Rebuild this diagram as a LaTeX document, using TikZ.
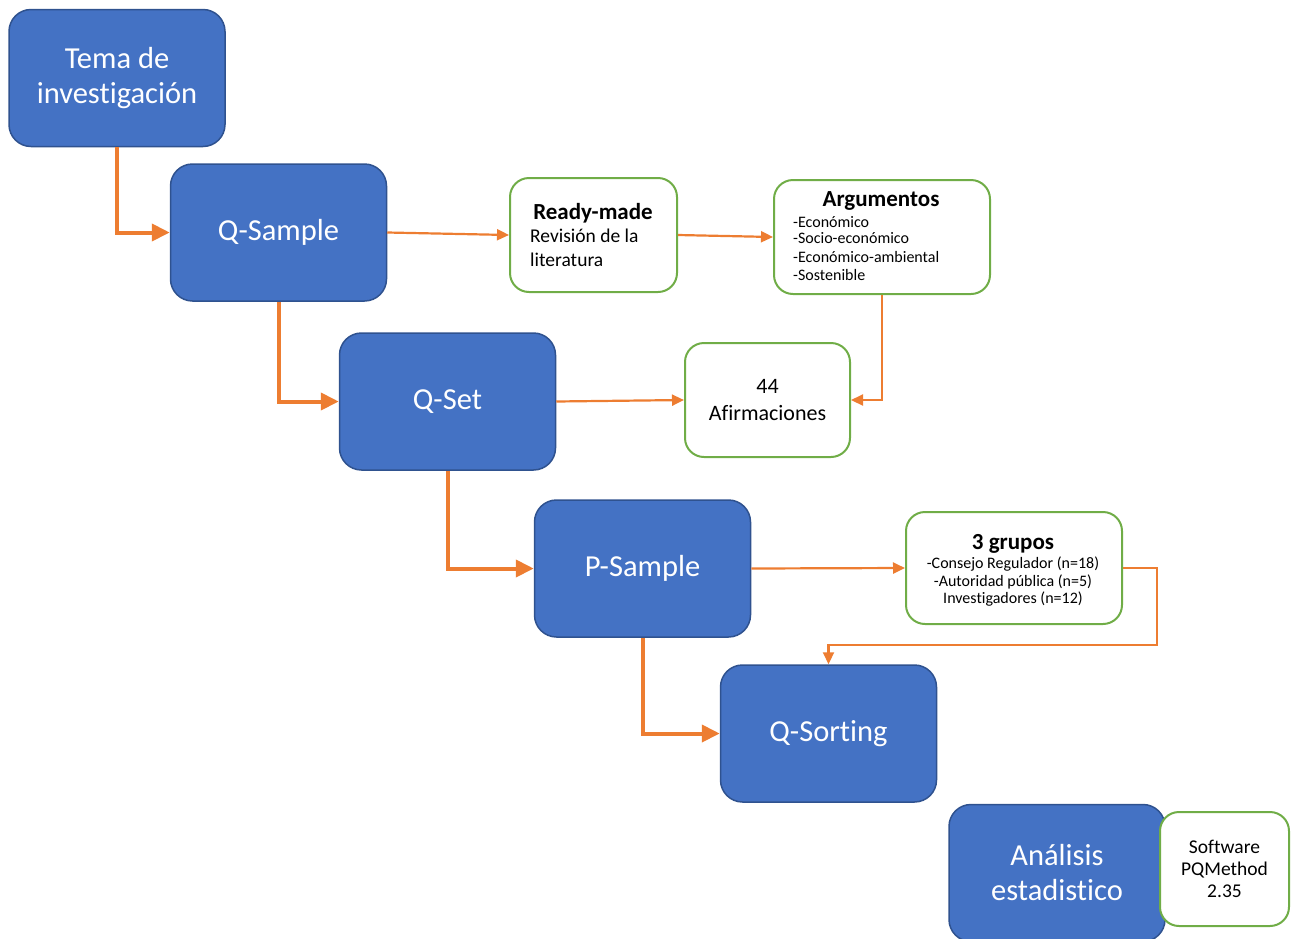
\documentclass[tikz,border=0pt]{standalone}
\usepackage{fontspec}
\setmainfont[Ligatures=NoCommon]{Carlito}
\usetikzlibrary{arrows.meta}
\definecolor{qblue}{HTML}{4472C4}
\definecolor{qblueb}{HTML}{2F528F}
\definecolor{qgreen}{HTML}{70AD47}
\definecolor{qorange}{HTML}{ED7D31}
\begin{document}
\begin{tikzpicture}[x=1pt,y=-1pt,
  bbox/.style={rectangle, rounded corners=22pt, fill=qblue, draw=qblueb, line width=1.5pt, text=white,
    font=\fontsize{30.5}{35}\selectfont, align=center, minimum width=216pt, minimum height=137pt, inner sep=0pt},
  gbox/.style={rectangle, rounded corners=19pt, fill=white, draw=qgreen, line width=2pt, align=center, inner sep=0pt,
    minimum height=114pt},
  tarrow/.style={draw=qorange, line width=4pt, -{Triangle[length=18pt,width=17pt]}},
  sarrow/.style={draw=qorange, line width=2.2pt, -{Triangle[length=12pt,width=11pt]}},
  ttl/.style={font=\fontsize{23}{26}\selectfont\bfseries, anchor=base},
  small/.style={font=\fontsize{16}{18}\selectfont, inner sep=0pt},
  mid/.style={font=\fontsize{19.5}{23}\selectfont, inner sep=0pt}]
\useasboundingbox (0,0) rectangle (1291,938);

% blue boxes
\node[bbox] (tema) at (117,78) {Tema de\\investigación};
\node[bbox] (qsample) at (278.5,232.5) {Q-Sample};
\node[bbox] (qset) at (447.5,401.5) {Q-Set};
\node[bbox] (psample) at (642.5,568.5) {P-Sample};
\node[bbox] (qsort) at (828.5,733.5) {Q-Sorting};
\node[bbox] (analisis) at (1057,873) {Análisis\\estadistico};

% green boxes
\node[gbox, minimum width=167pt] (ready) at (593.5,235) {};
\node[gbox, minimum width=216pt] (arg) at (882,237) {};
\node[gbox, minimum width=165pt, font=\fontsize{22}{27}\selectfont] (afirm) at (767.5,400) {44\\Afirmaciones};
\node[gbox, minimum width=216pt, minimum height=112pt] (grupos) at (1014,568) {};
\node[gbox, minimum width=129pt, font=\fontsize{19.5}{22}\selectfont] (soft) at (1224.5,869) {Software\\PQMethod\\2.35};

% texts in green boxes
\node[ttl, inner sep=0pt] (readyt) at (593,219.3) {Ready-made};
\node[mid, anchor=base west] (ready1) at (530,242.7) {Revisión de la};
\node[mid, anchor=base west] (ready2) at (530,266) {literatura};

\node[ttl, inner sep=0pt] (argt) at (881,206) {Argumentos};
\node[small, anchor=base west] (arg1) at (793,227.3) {-Económico};
\node[small, anchor=base west] (arg2) at (793,243.3) {-Socio-económico};
\node[small, anchor=base west] (arg3) at (793,262.3) {-Económico-ambiental};
\node[small, anchor=base west] (arg4) at (793,280) {-Sostenible};

\node[ttl, inner sep=0pt] (grupost) at (1013,549.3) {3 grupos};
\node[small, anchor=base] (gr1) at (1013,568.3) {-Consejo Regulador (n=18)};
\node[small, anchor=base] (gr2) at (1013,586) {-Autoridad pública (n=5)};
\node[small, anchor=base] (gr3) at (1013,603.3) {Investigadores (n=12)};

% thick arrows
\draw[tarrow] (tema.south) |- (qsample.west);
\draw[tarrow] (qsample.south) |- (qset.west);
\draw[tarrow] (qset.south) |- (psample.west);
\draw[tarrow] (psample.south) |- (qsort.west);

% thin arrows
\draw[sarrow] (qsample.east) -- (ready.west);
\draw[sarrow] (ready.east) -- (arg.west);
\draw[sarrow] (arg.south) |- (afirm.east);
\draw[sarrow] (qset.east) -- (afirm.west);
\draw[sarrow] (psample.east) -- (grupos.west);
\coordinate (c1) at (1157,645);
\draw[sarrow] (grupos.east) -| (c1) -| (qsort.north);
\end{tikzpicture}
\end{document}
